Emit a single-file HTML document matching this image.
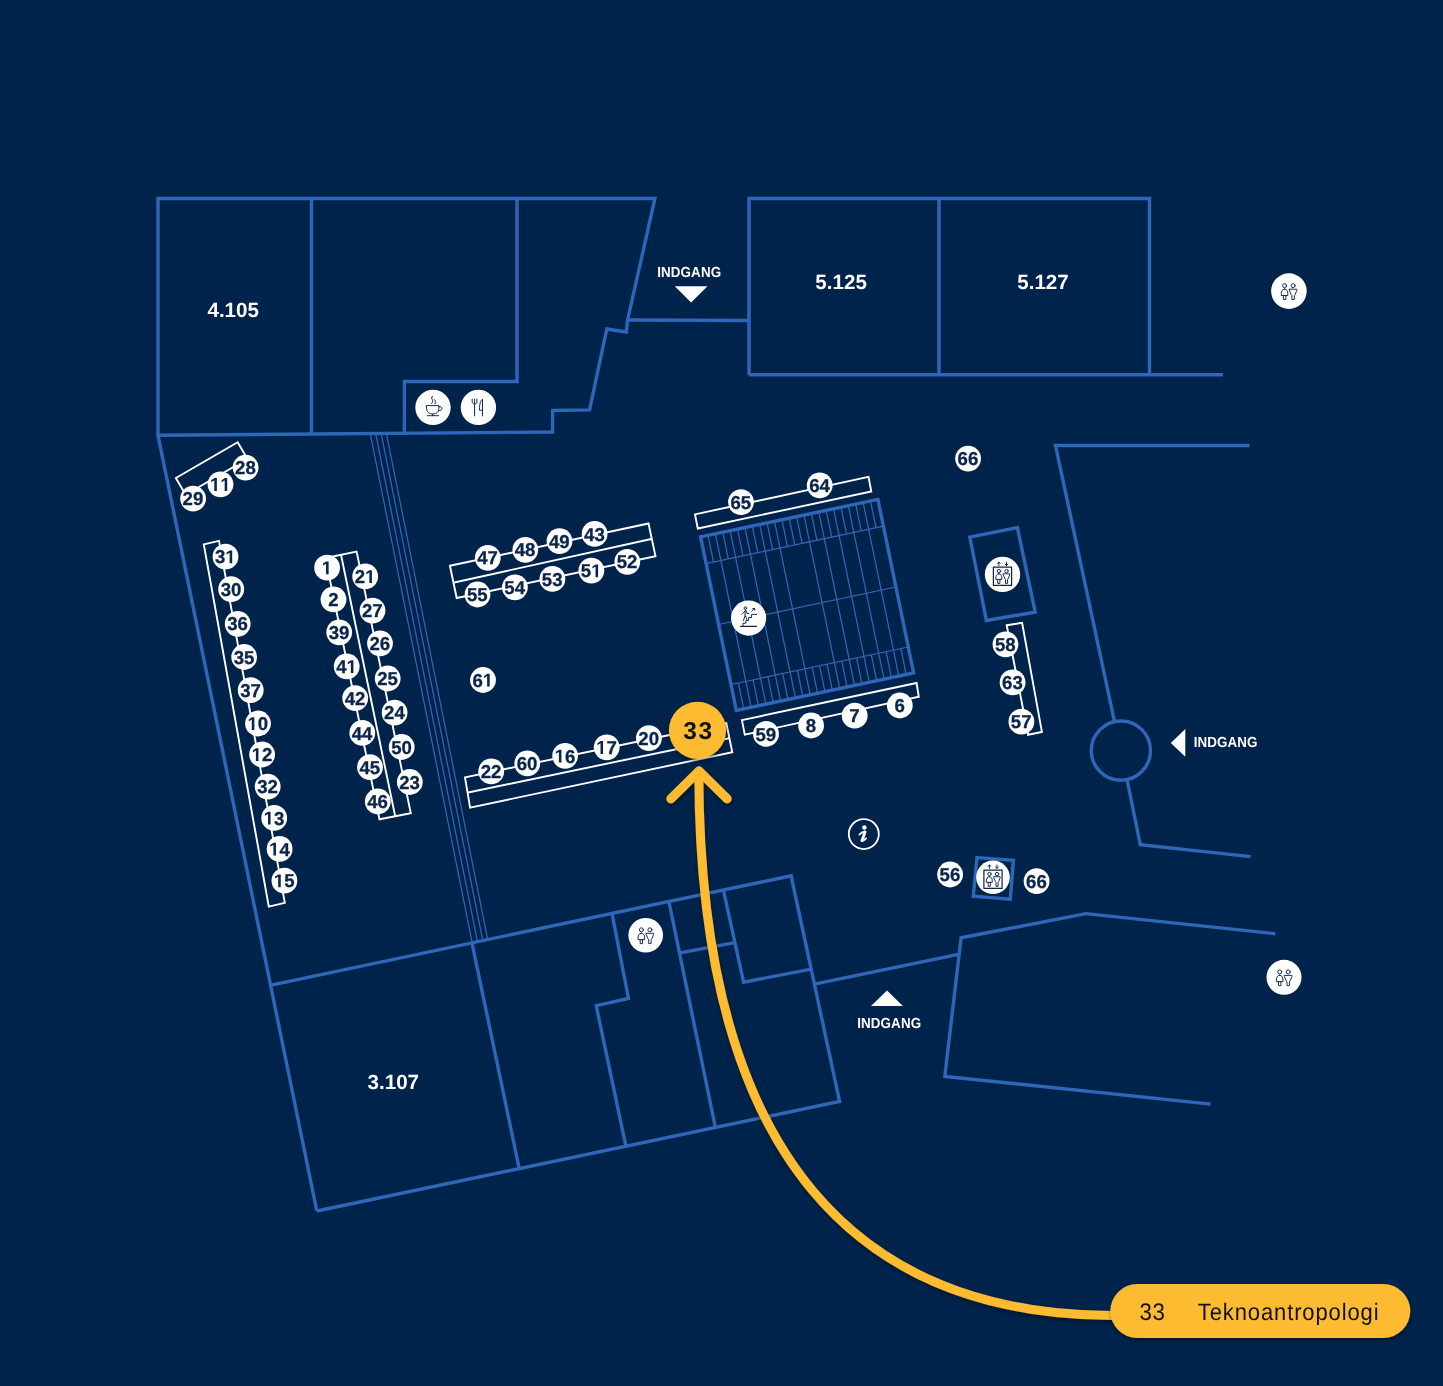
<!DOCTYPE html>
<html><head><meta charset="utf-8"><title>Map</title>
<style>
html,body{margin:0;padding:0;background:#00234b;}
body{width:1443px;height:1386px;overflow:hidden;}
svg{display:block;will-change:transform;}
text{font-family:"Liberation Sans",sans-serif;text-rendering:geometricPrecision;}
</style></head><body>
<svg width="1443" height="1386" viewBox="0 0 1443 1386">
<defs>
<filter id="sh" x="-30%" y="-30%" width="160%" height="160%"><feDropShadow dx="0.5" dy="2.5" stdDeviation="2.2" flood-color="#000" flood-opacity="0.4"/></filter>
</defs>
<rect width="1443" height="1386" fill="#00234b"/>

<path d="M706.1 563.6L883.4 526.1M718.6 624.5L895.9 587.0M731.0 684.5L908.3 647.0M708.0 535.3L713.5 562.1M738.4 683.0L743.7 708.8M715.4 533.8L720.9 560.5M745.8 681.4L751.1 707.3M720.9 560.5L745.8 681.4M722.8 532.2L728.3 558.9M753.1 679.9L758.5 705.7M730.1 530.6L735.6 557.4M760.5 678.3L765.9 704.1M735.6 557.4L760.5 678.3M737.5 529.1L743.0 555.8M767.9 676.7L773.2 702.6M744.9 527.5L750.4 554.2M775.3 675.2L780.6 701.0M750.4 554.2L775.3 675.2M752.3 526.0L757.8 552.7M782.7 673.6L788.0 699.5M759.7 524.4L765.2 551.1M790.1 672.0L795.4 697.9M765.2 551.1L790.1 672.0M767.1 522.8L772.6 549.6M797.5 670.5L802.8 696.3M774.5 521.3L780.0 548.0M804.9 668.9L810.2 694.8M780.0 548.0L804.9 668.9M781.9 519.7L787.4 546.4M812.2 667.4L817.6 693.2M789.2 518.1L794.7 544.9M819.6 665.8L825.0 691.6M796.6 516.6L802.1 543.3M827.0 664.2L832.3 690.1M804.0 515.0L809.5 541.7M834.4 662.7L839.7 688.5M809.5 541.7L834.4 662.7M811.4 513.5L816.9 540.2M841.8 661.1L847.1 687.0M818.8 511.9L824.3 538.6M849.2 659.5L854.5 685.4M824.3 538.6L849.2 659.5M826.2 510.3L831.7 537.1M856.6 658.0L861.9 683.8M833.6 508.8L839.1 535.5M864.0 656.4L869.3 682.3M839.1 535.5L864.0 656.4M841.0 507.2L846.5 533.9M871.3 654.9L876.7 680.7M848.4 505.6L853.8 532.4M878.7 653.3L884.1 679.1M853.8 532.4L878.7 653.3M855.7 504.1L861.2 530.8M886.1 651.7L891.4 677.6M863.1 502.5L868.6 529.2M893.5 650.2L898.8 676.0M868.6 529.2L893.5 650.2M870.5 501.0L876.0 527.7M900.9 648.6L906.2 674.5M370.2 433.6L472.2 942.8M375.7 433.6L477.5 941.7M381.2 433.6L482.8 940.6M386.4 433.6L487.7 939.6" stroke="#2e67b8" stroke-width="1.25" fill="none"/>
<g stroke="#2e67b8" stroke-width="3.4" fill="none" stroke-linejoin="miter">
<polygon points="158.0,435.3 158.0,198.5 654.9,198.5 627.6,320.0 626.3,332.0 606.8,329.0 589.6,409.9 552.6,410.5 552.6,432.0 158.0,435.3"/>
<polyline points="311.5,198.5 311.5,434.0"/>
<polyline points="517.0,198.5 517.0,381.5 404.4,381.5 404.4,433.2"/>
<polyline points="627.6,320.0 748.8,320.5"/>
<polyline points="749.0,374.7 749.0,198.5 1149.5,198.5 1149.5,374.7"/>
<polyline points="749.0,374.7 1223.0,374.7"/>
<polyline points="939.0,198.5 939.0,374.7"/>
<polyline points="158.0,435.3 316.8,1211.0"/>
<polyline points="271.1,985.1 791.1,875.8 839.6,1101.4 316.8,1211.0"/>
<polyline points="472.0,943.0 519.2,1168.5"/>
<polyline points="612.0,913.4 628.5,998.4 596.2,1005.7 625.9,1146.2"/>
<polyline points="668.9,901.5 715.4,1127.5"/>
<polyline points="680.0,952.9 733.5,942.8"/>
<polyline points="723.4,890.0 743.6,982.2 811.2,969.1"/>
<polyline points="814.4,984.2 959.4,954.1"/>
<polyline points="1275.4,933.7 1085.9,913.6 961.1,937.8 944.8,1076.4 1210.6,1104.1"/>
<polyline points="1249.5,445.5 1055.5,445.5 1114.5,721.6"/>
<polyline points="1127.1,779.8 1140.3,844.8 1250.5,856.6"/>
<circle cx="1120.9" cy="750.6" r="29.6"/>
<polygon points="969.8,537.1 1017.4,527.6 1035.2,612.1 986.4,620.5"/>
<polygon points="977.0,857.6 1013.4,860.4 1010.3,899.2 973.3,896.1"/>
<polygon points="700.6,536.9 877.9,499.4 913.6,672.9 736.3,710.4"/>
</g>
<g stroke="#ffffff" stroke-width="1.9" fill="none">
<polygon points="175.9,478.0 237.7,442.2 247.4,458.9 185.6,494.7"/>
<polygon points="203.8,544.4 219.0,540.8 284.8,902.8 268.8,906.7"/>
<polygon points="325.4,558.0 356.6,551.5 410.8,813.3 379.5,819.3"/>
<polyline points="341.0,554.8 395.2,816.3"/>
<polygon points="449.9,565.8 648.5,523.5 655.5,556.2 456.7,598.0"/>
<polyline points="454.3,582.5 651.2,539.0"/>
<polygon points="695.0,514.4 868.5,476.9 871.3,491.5 697.8,528.5"/>
<polygon points="741.9,720.1 916.6,683.0 918.8,696.8 744.8,734.6"/>
<polygon points="465.0,777.4 726.3,723.2 732.3,752.3 470.1,807.6"/>
<polyline points="468.1,792.5 729.3,738.2"/>
<polygon points="1006.7,625.2 1022.1,622.9 1041.9,731.9 1028.1,734.8"/>
</g>
<g>
<circle cx="193.1" cy="498.6" r="12.9" fill="#ffffff"/>
<circle cx="220.5" cy="484.3" r="12.9" fill="#ffffff"/>
<circle cx="245.6" cy="467.6" r="12.9" fill="#ffffff"/>
<circle cx="225.5" cy="556.7" r="12.9" fill="#ffffff"/>
<circle cx="231.2" cy="589.2" r="12.9" fill="#ffffff"/>
<circle cx="237.7" cy="623.8" r="12.9" fill="#ffffff"/>
<circle cx="244.2" cy="657" r="12.9" fill="#ffffff"/>
<circle cx="250.7" cy="690.2" r="12.9" fill="#ffffff"/>
<circle cx="258" cy="723.5" r="12.9" fill="#ffffff"/>
<circle cx="262.1" cy="754.5" r="12.9" fill="#ffffff"/>
<circle cx="267.7" cy="786.6" r="12.9" fill="#ffffff"/>
<circle cx="274.2" cy="817.9" r="12.9" fill="#ffffff"/>
<circle cx="279.6" cy="848.9" r="12.9" fill="#ffffff"/>
<circle cx="284.4" cy="880.7" r="12.9" fill="#ffffff"/>
<circle cx="327.1" cy="567.7" r="12.9" fill="#ffffff"/>
<circle cx="333.5" cy="599.4" r="12.9" fill="#ffffff"/>
<circle cx="339.2" cy="632.3" r="12.9" fill="#ffffff"/>
<circle cx="346.7" cy="666.4" r="12.9" fill="#ffffff"/>
<circle cx="355.2" cy="698.2" r="12.9" fill="#ffffff"/>
<circle cx="362.3" cy="732.9" r="12.9" fill="#ffffff"/>
<circle cx="370" cy="767.2" r="12.9" fill="#ffffff"/>
<circle cx="377.8" cy="801.5" r="12.9" fill="#ffffff"/>
<circle cx="365.2" cy="576.4" r="12.9" fill="#ffffff"/>
<circle cx="372.5" cy="610.6" r="12.9" fill="#ffffff"/>
<circle cx="380" cy="643.3" r="12.9" fill="#ffffff"/>
<circle cx="387.7" cy="678.5" r="12.9" fill="#ffffff"/>
<circle cx="394.6" cy="712.7" r="12.9" fill="#ffffff"/>
<circle cx="401.7" cy="747" r="12.9" fill="#ffffff"/>
<circle cx="409.8" cy="782" r="12.9" fill="#ffffff"/>
<circle cx="487.8" cy="557.8" r="12.9" fill="#ffffff"/>
<circle cx="525.3" cy="549.8" r="12.9" fill="#ffffff"/>
<circle cx="559.5" cy="541.1" r="12.9" fill="#ffffff"/>
<circle cx="594.6" cy="533.9" r="12.9" fill="#ffffff"/>
<circle cx="477.5" cy="594.5" r="12.9" fill="#ffffff"/>
<circle cx="514.9" cy="587.3" r="12.9" fill="#ffffff"/>
<circle cx="552.4" cy="578.9" r="12.9" fill="#ffffff"/>
<circle cx="591.4" cy="570.6" r="12.9" fill="#ffffff"/>
<circle cx="627.3" cy="561.8" r="12.9" fill="#ffffff"/>
<circle cx="483" cy="680" r="12.9" fill="#ffffff"/>
<circle cx="741" cy="502.2" r="12.9" fill="#ffffff"/>
<circle cx="819.7" cy="485.3" r="12.9" fill="#ffffff"/>
<circle cx="766" cy="733.9" r="12.9" fill="#ffffff"/>
<circle cx="811.1" cy="725.5" r="12.9" fill="#ffffff"/>
<circle cx="854.7" cy="715.7" r="12.9" fill="#ffffff"/>
<circle cx="899.8" cy="705.5" r="12.9" fill="#ffffff"/>
<circle cx="491.2" cy="771.4" r="12.9" fill="#ffffff"/>
<circle cx="527.3" cy="763.4" r="12.9" fill="#ffffff"/>
<circle cx="565.1" cy="755.9" r="12.9" fill="#ffffff"/>
<circle cx="606.7" cy="747.3" r="12.9" fill="#ffffff"/>
<circle cx="648.9" cy="738.2" r="12.9" fill="#ffffff"/>
<circle cx="968.1" cy="458.6" r="12.9" fill="#ffffff"/>
<circle cx="1005.5" cy="644.3" r="12.9" fill="#ffffff"/>
<circle cx="1012.6" cy="682.4" r="12.9" fill="#ffffff"/>
<circle cx="1021.4" cy="721.7" r="12.9" fill="#ffffff"/>
<circle cx="950.1" cy="874.5" r="12.9" fill="#ffffff"/>
<circle cx="1036.6" cy="881.2" r="12.9" fill="#ffffff"/>
</g>
<g fill="#0b2449" stroke="#0b2449" stroke-width="0.3" font-size="18.6" font-weight="bold">
<text x="182.56" y="505.2">2</text>
<text x="192.90" y="505.2">9</text>
<text x="235.06" y="474.2">2</text>
<text x="245.40" y="474.2">8</text>
<text x="214.96" y="563.3">3</text>
<text x="220.66" y="595.8">3</text>
<text x="231.00" y="595.8">0</text>
<text x="227.16" y="630.4">3</text>
<text x="237.50" y="630.4">6</text>
<text x="233.66" y="663.6">3</text>
<text x="244.00" y="663.6">5</text>
<text x="240.16" y="696.8">3</text>
<text x="250.50" y="696.8">7</text>
<text x="257.80" y="730.1">0</text>
<text x="261.90" y="761.1">2</text>
<text x="257.16" y="793.2">3</text>
<text x="267.50" y="793.2">2</text>
<text x="274.00" y="824.5">3</text>
<text x="279.40" y="855.5">4</text>
<text x="284.20" y="887.3">5</text>
<text x="328.13" y="606.0">2</text>
<text x="328.66" y="638.9">3</text>
<text x="339.00" y="638.9">9</text>
<text x="336.16" y="673.0">4</text>
<text x="344.66" y="704.8">4</text>
<text x="355.00" y="704.8">2</text>
<text x="351.76" y="739.5">4</text>
<text x="362.10" y="739.5">4</text>
<text x="359.46" y="773.8">4</text>
<text x="369.80" y="773.8">5</text>
<text x="367.26" y="808.1">4</text>
<text x="377.60" y="808.1">6</text>
<text x="354.66" y="583.0">2</text>
<text x="361.96" y="617.2">2</text>
<text x="372.30" y="617.2">7</text>
<text x="369.46" y="649.9">2</text>
<text x="379.80" y="649.9">6</text>
<text x="377.16" y="685.1">2</text>
<text x="387.50" y="685.1">5</text>
<text x="384.06" y="719.3">2</text>
<text x="394.40" y="719.3">4</text>
<text x="391.16" y="753.6">5</text>
<text x="401.50" y="753.6">0</text>
<text x="399.26" y="788.6">2</text>
<text x="409.60" y="788.6">3</text>
<text x="477.26" y="564.4">4</text>
<text x="487.60" y="564.4">7</text>
<text x="514.76" y="556.4">4</text>
<text x="525.10" y="556.4">8</text>
<text x="548.96" y="547.7">4</text>
<text x="559.30" y="547.7">9</text>
<text x="584.06" y="540.5">4</text>
<text x="594.40" y="540.5">3</text>
<text x="466.96" y="601.1">5</text>
<text x="477.30" y="601.1">5</text>
<text x="504.36" y="593.9">5</text>
<text x="514.70" y="593.9">4</text>
<text x="541.86" y="585.5">5</text>
<text x="552.20" y="585.5">3</text>
<text x="580.86" y="577.2">5</text>
<text x="616.76" y="568.4">5</text>
<text x="627.10" y="568.4">2</text>
<text x="472.46" y="686.6">6</text>
<text x="730.46" y="508.8">6</text>
<text x="740.80" y="508.8">5</text>
<text x="809.16" y="491.9">6</text>
<text x="819.50" y="491.9">4</text>
<text x="755.46" y="740.5">5</text>
<text x="765.80" y="740.5">9</text>
<text x="805.73" y="732.1">8</text>
<text x="849.33" y="722.3">7</text>
<text x="894.43" y="712.1">6</text>
<text x="480.66" y="778.0">2</text>
<text x="491.00" y="778.0">2</text>
<text x="516.76" y="770.0">6</text>
<text x="527.10" y="770.0">0</text>
<text x="564.90" y="762.5">6</text>
<text x="606.50" y="753.9">7</text>
<text x="638.36" y="744.8">2</text>
<text x="648.70" y="744.8">0</text>
<text x="957.56" y="465.2">6</text>
<text x="967.90" y="465.2">6</text>
<text x="994.96" y="650.9">5</text>
<text x="1005.30" y="650.9">8</text>
<text x="1002.06" y="689.0">6</text>
<text x="1012.40" y="689.0">3</text>
<text x="1010.86" y="728.3">5</text>
<text x="1021.20" y="728.3">7</text>
<text x="939.56" y="881.1">5</text>
<text x="949.90" y="881.1">6</text>
<text x="1026.06" y="887.8">6</text>
<text x="1036.40" y="887.8">6</text>
<path transform="translate(209.96,490.90) scale(0.00908,-0.00908)" d="M478 0L478 1170L140 959L140 1180L493 1409L759 1409L759 0Z"/><path transform="translate(220.30,490.90) scale(0.00908,-0.00908)" d="M478 0L478 1170L140 959L140 1180L493 1409L759 1409L759 0Z"/><path transform="translate(225.30,563.30) scale(0.00908,-0.00908)" d="M478 0L478 1170L140 959L140 1180L493 1409L759 1409L759 0Z"/><path transform="translate(247.46,730.10) scale(0.00908,-0.00908)" d="M478 0L478 1170L140 959L140 1180L493 1409L759 1409L759 0Z"/><path transform="translate(251.56,761.10) scale(0.00908,-0.00908)" d="M478 0L478 1170L140 959L140 1180L493 1409L759 1409L759 0Z"/><path transform="translate(263.66,824.50) scale(0.00908,-0.00908)" d="M478 0L478 1170L140 959L140 1180L493 1409L759 1409L759 0Z"/><path transform="translate(269.06,855.50) scale(0.00908,-0.00908)" d="M478 0L478 1170L140 959L140 1180L493 1409L759 1409L759 0Z"/><path transform="translate(273.86,887.30) scale(0.00908,-0.00908)" d="M478 0L478 1170L140 959L140 1180L493 1409L759 1409L759 0Z"/><path transform="translate(321.73,574.30) scale(0.00908,-0.00908)" d="M478 0L478 1170L140 959L140 1180L493 1409L759 1409L759 0Z"/><path transform="translate(346.50,673.00) scale(0.00908,-0.00908)" d="M478 0L478 1170L140 959L140 1180L493 1409L759 1409L759 0Z"/><path transform="translate(365.00,583.00) scale(0.00908,-0.00908)" d="M478 0L478 1170L140 959L140 1180L493 1409L759 1409L759 0Z"/><path transform="translate(591.20,577.20) scale(0.00908,-0.00908)" d="M478 0L478 1170L140 959L140 1180L493 1409L759 1409L759 0Z"/><path transform="translate(482.80,686.60) scale(0.00908,-0.00908)" d="M478 0L478 1170L140 959L140 1180L493 1409L759 1409L759 0Z"/><path transform="translate(554.56,762.50) scale(0.00908,-0.00908)" d="M478 0L478 1170L140 959L140 1180L493 1409L759 1409L759 0Z"/><path transform="translate(596.16,753.90) scale(0.00908,-0.00908)" d="M478 0L478 1170L140 959L140 1180L493 1409L759 1409L759 0Z"/>
</g>
<g fill="#ffffff" font-size="20.6" font-weight="bold" text-anchor="middle">
<text x="233.2" y="316.7">4.105</text>
<text x="841.1" y="288.7">5.125</text>
<text x="1043" y="288.7">5.127</text>
<text x="393.3" y="1088.5">3.107</text>
</g>
<g fill="#ffffff" font-size="13.4" font-weight="bold" letter-spacing="0.1">
<text transform="translate(689.2,276.5) scale(1,1.09)" text-anchor="middle">INDGANG</text>
<text transform="translate(1193.7,747.1) scale(1,1.09)">INDGANG</text>
<text transform="translate(889.2,1027.9) scale(1,1.09)" text-anchor="middle">INDGANG</text>
<polygon points="674.8,286.2 707.5,286.2 691.1,302.4"/>
<polygon points="1170.8,743 1185.3,729.1 1185.3,756.8"/>
<polygon points="871,1006.1 902.9,1006.1 887,990.5"/>
</g>
<g transform="translate(433,407.4)"><circle r="17.7" fill="#ffffff"/><g stroke="#0b2449" stroke-width="0.95" fill="none" stroke-linejoin="round" stroke-linecap="round"><path d="M-6.4 -1.8 L5.9 -1.8 L5.9 1 C5.9 4.4 3.4 6.6 -0.25 6.6 C-3.9 6.6 -6.4 4.4 -6.4 1 Z"/><path d="M5.9 -0.9 C8 -1.1 9.1 0 9 1.2 C8.9 2.5 7.6 3.4 5.4 3.4"/><path d="M-5.7 8.3 L5.7 8.3 M-0.25 6.6 L-0.25 8.3"/><path d="M-0.4 -11.2 C-1.6 -10 -1.6 -9 -0.8 -8 C0 -7 0 -5.5 -1.3 -3.8 M1.6 -7.7 C2.6 -6.8 2.8 -5.5 2.0 -3.6" stroke-width="1"/></g></g>
<g transform="translate(478.4,407.4)"><circle r="17.7" fill="#ffffff"/><g stroke="#0b2449" stroke-width="0.95" fill="none" stroke-linejoin="round" stroke-linecap="round"><path d="M-6.2 -8.3 L-6.2 -5.3 C-6.2 -4.2 -5.3 -3.5 -3.8 -3.5 C-2.3 -3.5 -1.5 -4.2 -1.5 -5.3 L-1.5 -8.3 M-3.8 -8.3 L-3.8 8.5"/><path d="M4.1 8.5 L4.1 -8.3 C2.3 -6.8 1.1 -3.5 1.1 0 L1.1 2.8 L4.1 2.8"/></g></g>
<g transform="translate(1288.9,291.1)"><circle r="17.8" fill="#ffffff"/><g stroke="#0b2449" stroke-width="0.95" fill="none" stroke-linejoin="round" stroke-linecap="round"><circle cx="-4.3" cy="-5.4" r="2.0"/><path d="M-4.3 -2 C-6.9 -2 -7.6 0.3 -7.6 2.8 L-7.6 4.4 L-1.1 4.4 L-1.1 2.8 C-1.1 0.3 -1.8 -2 -4.3 -2 Z"/><path d="M-5.5 4.4 L-5.5 8.4 L-3.1 8.4 L-3.1 4.4"/><circle cx="4.2" cy="-5.4" r="2.0"/><path d="M0.5 -1.9 L7.9 -1.9 L7.9 -0.6 L6.2 3.4 L5.4 4.6 L5.4 8.4 L3.0 8.4 L3.0 4.6 L2.2 3.4 L0.5 -0.6 Z"/></g></g>
<g transform="translate(645.7,935.2)"><circle r="17.3" fill="#ffffff"/><g stroke="#0b2449" stroke-width="0.95" fill="none" stroke-linejoin="round" stroke-linecap="round"><circle cx="-4.3" cy="-5.4" r="2.0"/><path d="M-4.3 -2 C-6.9 -2 -7.6 0.3 -7.6 2.8 L-7.6 4.4 L-1.1 4.4 L-1.1 2.8 C-1.1 0.3 -1.8 -2 -4.3 -2 Z"/><path d="M-5.5 4.4 L-5.5 8.4 L-3.1 8.4 L-3.1 4.4"/><circle cx="4.2" cy="-5.4" r="2.0"/><path d="M0.5 -1.9 L7.9 -1.9 L7.9 -0.6 L6.2 3.4 L5.4 4.6 L5.4 8.4 L3.0 8.4 L3.0 4.6 L2.2 3.4 L0.5 -0.6 Z"/></g></g>
<g transform="translate(1284,977.3)"><circle r="17.5" fill="#ffffff"/><g stroke="#0b2449" stroke-width="0.95" fill="none" stroke-linejoin="round" stroke-linecap="round"><circle cx="-4.3" cy="-5.4" r="2.0"/><path d="M-4.3 -2 C-6.9 -2 -7.6 0.3 -7.6 2.8 L-7.6 4.4 L-1.1 4.4 L-1.1 2.8 C-1.1 0.3 -1.8 -2 -4.3 -2 Z"/><path d="M-5.5 4.4 L-5.5 8.4 L-3.1 8.4 L-3.1 4.4"/><circle cx="4.2" cy="-5.4" r="2.0"/><path d="M0.5 -1.9 L7.9 -1.9 L7.9 -0.6 L6.2 3.4 L5.4 4.6 L5.4 8.4 L3.0 8.4 L3.0 4.6 L2.2 3.4 L0.5 -0.6 Z"/></g></g>
<g transform="translate(1002.5,574.4)"><circle r="17.7" fill="#ffffff"/><g stroke="#0b2449" stroke-width="0.95" fill="none" stroke-linejoin="round" stroke-linecap="round"><rect x="-9.1" y="-7.2" width="18.2" height="18.2" stroke-width="1.2"/><path d="M-3.6 -8.9 L-3.6 -12.3 M-5 -10.9 L-3.6 -12.3 L-2.2 -10.9"/><path d="M4 -12.3 L4 -8.9 M2.6 -10.3 L4 -8.9 L5.4 -10.3"/><circle cx="-3.6" cy="-3.3" r="1.7"/><path d="M-3.6 -0.6 C-5.9 -0.6 -6.7 1.5 -6.7 3.6 L-6.7 5 L-0.7 5 L-0.7 3.6 C-0.7 1.5 -1.3 -0.6 -3.6 -0.6 Z"/><path d="M-4.8 5 L-4.8 9 L-2.6 9 L-2.6 5"/><circle cx="4" cy="-3.3" r="1.7"/><path d="M0.8 -0.6 L7.2 -0.6 L7.2 0.5 L5.7 4.2 L5.1 5.2 L5.1 9 L3 9 L3 5.2 L2.4 4.2 L0.8 0.5 Z"/></g></g>
<g transform="translate(993,877.3)"><circle r="16.8" fill="#ffffff"/><g stroke="#0b2449" stroke-width="0.95" fill="none" stroke-linejoin="round" stroke-linecap="round"><rect x="-9.1" y="-7.2" width="18.2" height="18.2" stroke-width="1.2"/><path d="M-3.6 -8.9 L-3.6 -12.3 M-5 -10.9 L-3.6 -12.3 L-2.2 -10.9"/><path d="M4 -12.3 L4 -8.9 M2.6 -10.3 L4 -8.9 L5.4 -10.3"/><circle cx="-3.6" cy="-3.3" r="1.7"/><path d="M-3.6 -0.6 C-5.9 -0.6 -6.7 1.5 -6.7 3.6 L-6.7 5 L-0.7 5 L-0.7 3.6 C-0.7 1.5 -1.3 -0.6 -3.6 -0.6 Z"/><path d="M-4.8 5 L-4.8 9 L-2.6 9 L-2.6 5"/><circle cx="4" cy="-3.3" r="1.7"/><path d="M0.8 -0.6 L7.2 -0.6 L7.2 0.5 L5.7 4.2 L5.1 5.2 L5.1 9 L3 9 L3 5.2 L2.4 4.2 L0.8 0.5 Z"/></g></g>
<g transform="translate(748.6,618.1)"><circle r="17.6" fill="#ffffff"/><g stroke="#0b2449" stroke-width="0.95" fill="none" stroke-linejoin="round" stroke-linecap="round"><circle cx="-3.2" cy="-10" r="1.3"/><path d="M-3.3 -8.5 L-3.6 -2 M-3.3 -7.2 L-6.8 -3.8 M-2.3 -7.2 L-1.6 -4.6 L0.2 -4.6 M-3.6 -2 L-5.2 2.4 M-3 -2 L-2 0.4 L-1.8 1.3"/><path d="M8 -3.7 L3 -3.7 L3 -0.6 L0 -0.6 L0 2.3 L-2.7 2.3 L-2.7 5.1 L-5.6 5.1 L-5.6 8.1"/><path d="M-8 8.2 L8 8.2" stroke-width="1.3"/><path d="M3.2 -7.2 L6.2 -9.6 M4.2 -9.6 L6.2 -9.6 L6.2 -7.8"/></g></g>
<circle cx="863.8" cy="834.1" r="15" fill="none" stroke="#ffffff" stroke-width="1.8"/>
<g transform="translate(864,834.2)" fill="#ffffff" stroke="#ffffff"><circle cx="0.4" cy="-6.7" r="2.25" stroke="none"/><g fill="none" stroke-linecap="round"><path d="M-4.7 0.5 C-3.4 -1.0 -1.8 -2.1 0.6 -2.5" stroke-width="1.7"/><path d="M1.0 -2.3 L-2.0 6.2" stroke-width="2.9"/><path d="M-2.4 6.4 C-1.8 7.3 0 6.4 2.1 4.1" stroke-width="1.8"/></g></g>
<g filter="url(#sh)"><path d="M698.8 772 C699.3 1165.6 864.6 1314.4 1112 1315.5" stroke="#fdbb30" stroke-width="9" fill="none" stroke-linecap="round"/>
<path d="M670.9 798.8 L699 770.9 L727.1 798.8" stroke="#fdbb30" stroke-width="9.2" fill="none" stroke-linecap="round" stroke-linejoin="round"/></g>
<g filter="url(#sh)"><circle cx="697.5" cy="730.3" r="28.6" fill="#fdbb30"/></g>
<text x="698.4" y="739.4" fill="#111" font-size="24.5" font-weight="bold" text-anchor="middle" letter-spacing="1.6">33</text>
<g filter="url(#sh)"><rect x="1110.3" y="1284" width="300" height="54" rx="27" fill="#fdbb30"/></g>
<text transform="translate(1139.6,1319.7) scale(1,1.08)" fill="#111" font-size="22.3" letter-spacing="0.5">33</text>
<text transform="translate(1197.8,1319.7) scale(1,1.08)" fill="#111" font-size="22" letter-spacing="0.88">Teknoantropologi</text>
</svg></body></html>
